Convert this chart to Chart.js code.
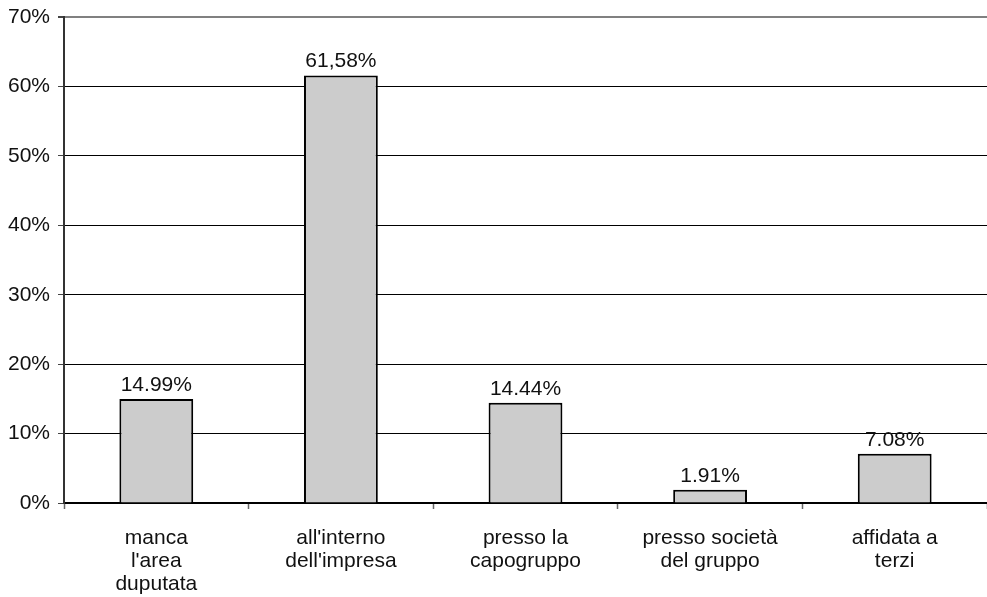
<!DOCTYPE html>
<html>
<head>
<meta charset="utf-8">
<script src="https://cdn.jsdelivr.net/npm/chart.js@4.4.1/dist/chart.umd.min.js"></script>
<style>
  html, body { margin: 0; padding: 0; background: #fff; }
  #wrap { position: relative; width: 987px; height: 597px; }
</style>
</head>
<body>
<div id="wrap"><canvas id="chart"></canvas></div>
<script>
// Where the function is located
const categories = [
  ['manca', "l'area", 'duputata'],
  ["all'interno", "dell'impresa"],
  ['presso la', 'capogruppo'],
  ['presso società', 'del gruppo'],
  ['affidata a', 'terzi']
];
const shares = [14.99, 61.58, 14.44, 1.91, 7.08];
const shareLabels = ['14.99%', '61,58%', '14.44%', '1.91%', '7.08%'];
const yTicks = [0, 10, 20, 30, 40, 50, 60, 70];

const FONT = "Arial, 'Liberation Sans', sans-serif";
const FONT_SIZE = 21;

// Writes each bar's value just above it
const valueLabels = {
  id: 'valueLabels',
  afterDatasetsDraw(chart) {
    const ctx = chart.ctx;
    const meta = chart.getDatasetMeta(0);
    ctx.save();
    ctx.font = FONT_SIZE + 'px ' + FONT;
    ctx.fillStyle = '#111';
    ctx.textAlign = 'center';
    ctx.textBaseline = 'alphabetic';
    meta.data.forEach((bar, i) => {
      ctx.fillText(shareLabels[i], bar.x, bar.y - 8);
    });
    ctx.restore();
  }
};

new Chart(document.getElementById('chart'), {
  type: 'bar',
  data: {
    labels: categories,
    datasets: [{
      data: shares,
      backgroundColor: '#cccccc',
      borderColor: '#000000',
      borderWidth: 2,
      barPercentage: 0.8,
      categoryPercentage: 0.5
    }]
  },
  options: {
    responsive: true,
    maintainAspectRatio: false,
    animation: false,
    layout: { padding: { top: 17, right: 0, left: 0, bottom: 0 } },
    plugins: {
      legend: { display: false },
      tooltip: { enabled: false }
    },
    scales: {
      x: {
        offset: true,
        grid: {
          offset: true,
          drawOnChartArea: false,
          drawTicks: true,
          tickLength: 6,
          tickColor: '#666',
          tickWidth: 1.5
        },
        border: { display: true, color: '#000', width: 1.5 },
        ticks: {
          color: '#111',
          padding: 18,
          maxRotation: 0,
          autoSkip: false,
          font: { family: FONT, size: FONT_SIZE, lineHeight: '23px' }
        },
        afterFit(scale) { scale.height = 94; }
      },
      y: {
        min: 0,
        max: 70,
        afterBuildTicks(scale) { scale.ticks = yTicks.map(v => ({ value: v })); },
        grid: {
          color: c => (c.tick && c.tick.value === 70 ? '#808080' : '#000'),
          lineWidth: c => (c.tick && c.tick.value === 70 ? 2 : 1),
          drawTicks: true,
          tickLength: 6,
          tickColor: '#444'
        },
        border: { display: true, color: '#333', width: 2 },
        ticks: {
          color: '#111',
          padding: 8,
          callback: v => v + '%',
          font: { family: FONT, size: FONT_SIZE }
        },
        afterFit(scale) {
          scale.width = 64;
          scale.paddingTop = 0;
          scale.paddingBottom = 0;
        }
      }
    }
  },
  plugins: [valueLabels]
});
</script>
</body>
</html>
